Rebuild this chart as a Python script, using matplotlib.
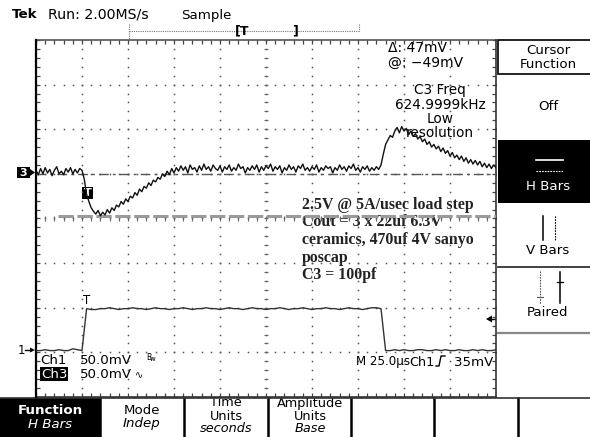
import matplotlib
matplotlib.use("Agg")
import matplotlib.pyplot as plt
from matplotlib.patches import Rectangle, Polygon
import numpy as np

W, H = 590, 437

# scope settings
us_per_div = 25.0
mv_per_div = 50.0
ch3_step_us = 1.25
ch1_step_us = 2.5
ch3_offset_div = 1.04
ch1_offset_div = -2.96

# Ch3 (output voltage, AC), mV, one sample per 1.25 us
ch3_mv = [
    2, -3, 4, -2, 5, -1, 3, -4, 2, 6, -2, 1, -3, 4, 0, 5, -2, 3, -1, 4, 2,
    -8, -25, -33, -40, -44, -47, -43, -49, -45, -48,
    -42, -46, -40, -43, -37, -39, -33, -36, -30, -33,
    -27, -29, -23, -26, -19, -22, -16, -18, -12, -15,
    -9, -11, -6, -8, -2, -5, 1, -3, 4, -1,
    5, 1, 7, 2, 6, -1, 8, 3, 5, 0,
    7, 2, 9, 3, 6, 1, 8, 4, 2, 7,
    0, 6, 3, 8, 1, 5, 2, 9, 4, 6,
    -1, 5, 2, 7, 3, 8, 0, 6, 2, 7,
    4, 9, 1, 6, 3, 7, -1, 5, 2, 8,
    3, 6, 0, 7, 4, 9, 2, 5, 1, 6,
    3, 8, 0, 5, 2, 7, 4, 6, -1, 5,
    2, 8, 3, 6, 1, 7, 4, 9, 2, 5,
    0, 6, 3, 7, 1, 5, 2, 6, 3,
    8, 20, 31, 36, 41, 39, 46, 50, 44, 51,
    46, 49, 42, 46, 40, 43, 37, 40, 34, 37,
    31, 34, 28, 31, 26, 29, 23, 27, 21, 24,
    18, 22, 16, 19, 14, 18, 12, 16, 10, 14,
    9, 13, 8, 12, 6, 10, 5, 9, 4, 8, 5,
]

# Ch1 (load step current sense), mV, one sample per 2.5 us
ch1_mv = [
    0, 0, 1, 0, 0, 1, 0, 0, 2, 1, 0,
    47, 46, 46, 47, 47, 48, 47, 46, 47, 47,
    48, 47, 47, 46, 47, 48, 47, 47, 46, 47,
    47, 48, 47, 46, 47, 47, 48, 47, 47, 46,
    47, 48, 47, 47, 46, 47, 48, 47, 47, 46,
    47, 47, 48, 47, 46, 47, 47, 48, 47, 46,
    47, 47, 48, 47, 47, 46, 47, 48, 47, 47,
    46, 47, 48, 48, 47,
    0, 0, 1, 0, 1, 0, 0, 1, 1, 0, 0, 1, 0, 1, 0, 0, 1, 0, 0, 1, 0, 1, 0, 0, 1,
]

cursor_delta_mv = 47
cursor_at_mv = -49

note_lines = [
    "2.5V @ 5A/usec load step",
    "Cout = 3 x 22uf 6.3V",
    "ceramics, 470uf 4V sanyo",
    "poscap",
    "C3 = 100pf",
]
softkeys = [
    ("Function", "H Bars"),
    ("Mode", "Indep"),
    ("Time\nUnits", "seconds"),
    ("Amplitude\nUnits", "Base"),
]

SANS = "DejaVu Sans"
FS = 9.6

fig = plt.figure(figsize=(W / 100, H / 100), dpi=100)
bg = fig.add_axes([0, 0, 1, 1], zorder=1)
bg.set_xlim(0, W)
bg.set_ylim(H, 0)
bg.axis("off")


def txt(x, y, s, size=FS, ha="left", **kw):
    bg.text(x, y, s, fontsize=size, ha=ha, va="center", family=SANS, **kw)


# ---- header ----
txt(12, 15, "Tek", weight="bold")
txt(48, 15, "Run: 2.00MS/s", size=10.2)
txt(181, 15, "Sample")
bg.plot([129, 359], [31, 31], color="#777", lw=0.8, ls=(0, (1, 1)))
bg.plot([129, 129], [24, 39], color="#777", lw=0.8, ls=(0, (1, 1)))
bg.plot([359, 359], [24, 31], color="#777", lw=0.8, ls=(0, (1, 1)))
txt(235, 31, "[T", size=9, weight="bold")
txt(292, 31, "]", size=9, weight="bold")

# ---- graticule ----
gx0, gy0, gx1, gy1 = 36, 40, 496, 397
ax = fig.add_axes([gx0 / W, 1 - gy1 / H, (gx1 - gx0) / W, (gy1 - gy0) / H], zorder=2)
ax.set_xlim(0, 10)
ax.set_ylim(-4, 4)
ax.axis("off")
ax.patch.set_alpha(0)

minor_x = np.arange(0, 10.001, 0.2)
minor_y = np.arange(-4, 4.001, 0.2)
dot = dict(ls="none", marker="s", ms=1.1, mew=0, color="#555")
for k in range(1, 10):
    ax.plot(np.full_like(minor_y, k), minor_y, **dot)
for j in range(-3, 4):
    ax.plot(minor_x, np.full_like(minor_x, j), **dot)
# center cross ticks
ax.hlines(minor_y, 4.95, 5.05, color="#666", lw=0.8)
ax.vlines(minor_x, -0.06, 0.06, color="#666", lw=0.8)
# border ticks
ax.vlines(minor_x, 3.92, 4, color="#444", lw=0.9)
ax.vlines(minor_x, -4, -3.92, color="#444", lw=0.9)
ax.hlines(minor_y, 0, 0.08, color="#444", lw=0.9)
ax.hlines(minor_y, 9.92, 10, color="#444", lw=0.9)
ax.plot([0, 10], [4, 4], color="#555", lw=1.2, clip_on=False)
ax.plot([0, 10], [-4, -4], color="#333", lw=1.2, clip_on=False)
ax.plot([0, 0], [-4, 4], color="black", lw=1.6, clip_on=False)
ax.plot([10, 10], [-4, 4], color="#333", lw=1.2, clip_on=False)

# cursors
y_at = ch3_offset_div + cursor_at_mv / mv_per_div
y_ref = ch3_offset_div + (cursor_at_mv + cursor_delta_mv) / mv_per_div
ax.plot([0.48, 10], [y_at, y_at], color="#9a9a9a", lw=2.2, ls=(0, (5, 1.2)))
ax.plot([0, 10], [y_ref, y_ref], color="#555", lw=1.0, ls=(0, (7, 3, 2, 3)))

# traces
t3 = np.arange(len(ch3_mv)) * ch3_step_us / us_per_div
t1 = np.arange(len(ch1_mv)) * ch1_step_us / us_per_div
ax.plot(t1, ch1_offset_div + np.array(ch1_mv) / mv_per_div, color="#333", lw=1.0)
ax.plot(t3, ch3_offset_div + np.array(ch3_mv) / mv_per_div, color="#111", lw=1.0)

# channel ground markers and trigger marks
bg.add_patch(Rectangle((17, 167), 13, 11, fc="black", ec="none"))
txt(23.5, 172.5, "3", size=8, ha="center", color="white", weight="bold")
bg.add_patch(Polygon([[30, 169], [35, 172.5], [30, 176]], fc="black", ec="none"))
txt(18, 350, "1", size=8.5)
bg.plot([25, 31], [350, 350], color="black", lw=1)
bg.add_patch(Polygon([[30, 347.5], [35, 350], [30, 352.5]], fc="black", ec="none"))
bg.add_patch(Rectangle((82, 187), 11, 12, fc="black", ec="none", zorder=3))
txt(87.5, 193, "T", size=8, ha="center", color="white", weight="bold", zorder=4)
txt(87, 300, "T", size=8.5, ha="center")
bg.add_patch(Polygon([[486, 319], [492, 315.5], [492, 322.5]], fc="black", ec="none"))
bg.plot([492, 495], [319, 319], color="black", lw=1)

# readouts
txt(388, 48, "\u0394: 47mV", size=10)
txt(388, 63, "@: \u221249mV", size=10)
for yy, s in zip([90, 105, 119, 133], ["C3 Freq", "624.9999kHz", "Low", "resolution"]):
    txt(440, yy, s, ha="center", size=9.8)

# annotation
for i, line in enumerate(note_lines):
    bg.text(302, 205 + 17.5 * i, line, fontsize=11.4, family="Liberation Serif",
            weight="bold", color="#222", ha="left", va="center")

# channel / timebase labels
txt(40, 361, "Ch1")
txt(80, 361, "50.0mV")
txt(146, 357, "B", size=5.5)
txt(150, 359, "w", size=5)
txt(41, 374, "Ch3", color="white",
    bbox=dict(boxstyle="square,pad=0.05", fc="black", ec="none"))
txt(80, 374, "50.0mV")
txt(135, 375, "\u223f", size=7)
txt(356, 362, "M 25.0\u00b5s", size=8.6)
txt(409, 362, "Ch1", size=9.2)
bg.plot([436, 439, 441, 445], [366, 366, 356, 356], color="black", lw=1)
txt(493, 362, "35mV", ha="right")

# ---- right menu ----
bg.add_patch(Rectangle((498, 40), 95, 34, fc="white", ec="black", lw=1.2))
txt(548, 51, "Cursor", ha="center")
txt(548, 64, "Function", ha="center")
txt(548, 107, "Off", ha="center")
bg.add_patch(Rectangle((498, 140), 95, 63, fc="black", ec="none"))
bg.plot([536, 563], [160, 160], color="white", lw=1.2)
bg.plot([536, 563], [171, 171], color="white", lw=0.8, ls=(0, (1.5, 1)))
txt(548, 186, "H Bars", ha="center", color="white")
bg.plot([543, 543], [216, 240], color="black", lw=1.1)
bg.plot([555, 555], [216, 240], color="black", lw=0.8, ls=(0, (1.5, 1)))
txt(548, 250, "V Bars", ha="center")
bg.plot([498, 590], [267, 267], color="#333", lw=1.3)
bg.plot([540, 540], [271, 304], color="#555", lw=0.8, ls=(0, (1.5, 1)))
bg.plot([537, 543], [297, 297], color="#555", lw=0.8)
bg.plot([560, 560], [272, 303], color="black", lw=1.1)
bg.plot([557, 563], [282, 282], color="black", lw=0.9)
txt(548, 313, "Paired", ha="center")
bg.plot([498, 590], [333, 333], color="#888", lw=1.6)

# ---- bottom soft keys ----
bg.add_patch(Rectangle((0, 398), 100, 40, fc="black", ec="none"))
for xs in [100, 184, 268, 351, 434, 518]:
    bg.plot([xs, xs], [398, 437], color="black", lw=1.8)
centers = [50, 142, 226, 310]
for (top, sub), cx in zip(softkeys, centers):
    col = "white" if cx == 50 else "black"
    wt = "bold" if cx == 50 else "normal"
    if "\n" in top:
        a, b = top.split("\n")
        txt(cx, 403, a, ha="center", color=col, size=9.3)
        txt(cx, 416, b, ha="center", color=col, size=9.3)
        txt(cx, 429, sub, ha="center", color=col, style="italic", size=9.3)
    else:
        txt(cx, 410, top, ha="center", color=col, weight=wt)
        txt(cx, 424, sub, ha="center", color=col, style="italic")
bg.add_patch(Rectangle((100, 390), 490, 7.5, fc="white", ec="none", zorder=1.5))
bg.plot([0, 590], [398, 398], color="#333", lw=1.2, zorder=3)

fig.savefig("out.png", dpi=100)
